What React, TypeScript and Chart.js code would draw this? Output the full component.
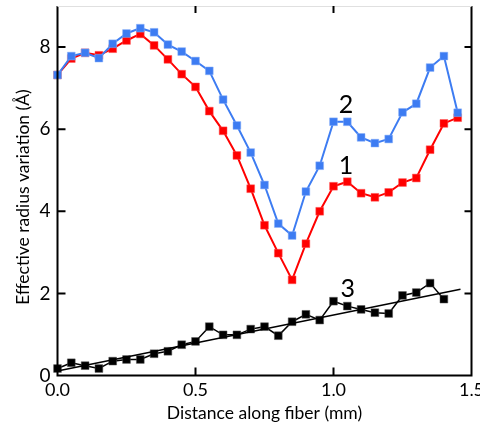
import React, { useEffect, useRef } from "react";
import { Chart, registerables } from "chart.js";

Chart.register(...registerables);

const distances = [0, 0.05, 0.1, 0.15, 0.2, 0.25, 0.3, 0.35, 0.4, 0.45, 0.5, 0.55, 0.6, 0.65, 0.7, 0.75, 0.8, 0.85, 0.9, 0.95, 1.0, 1.05, 1.1, 1.15, 1.2, 1.25, 1.3, 1.35, 1.4, 1.45];
const series1 = [7.32, 7.72, 7.86, 7.8, 7.96, 8.16, 8.32, 8.04, 7.7, 7.34, 7.03, 6.44, 5.96, 5.36, 4.55, 3.66, 2.98, 2.33, 3.21, 4.0, 4.61, 4.72, 4.44, 4.34, 4.46, 4.7, 4.81, 5.5, 6.14, 6.28];
const series2 = [7.32, 7.78, 7.86, 7.73, 8.08, 8.33, 8.46, 8.36, 8.06, 7.89, 7.66, 7.42, 6.72, 6.09, 5.43, 4.64, 3.7, 3.41, 4.48, 5.11, 6.18, 6.18, 5.8, 5.66, 5.76, 6.41, 6.62, 7.5, 7.78, 6.4];
const series3 = [0.17, 0.31, 0.24, 0.17, 0.35, 0.39, 0.39, 0.53, 0.59, 0.75, 0.83, 1.19, 0.99, 0.99, 1.13, 1.19, 0.97, 1.31, 1.49, 1.35, 1.81, 1.69, 1.61, 1.53, 1.51, 1.95, 2.02, 2.25, 1.86];
const fitX = [0, 1.46];
const fitY = [0.11, 2.1];
const xTicks = [0, 0.5, 1.0, 1.5];
const xTickLabels = ["0.0", "0.5", "1.0", "1.5"];
const yTicks = [0, 2, 4, 6, 8];
const yTickLabels = ["0", "2", "4", "6", "8"];
const seriesLabels = ["1", "2", "3"];
const labelPos = [
  { x: 1.045, y: 5.11 },
  { x: 1.045, y: 6.6 },
  { x: 1.052, y: 2.12 },
];

const FONT = "Lato, 'Open Sans', sans-serif";

const toXY = (xs: number[], ys: number[]) => ys.map((y, i) => ({ x: xs[i], y }));

const framePlugin = {
  id: "frame",
  afterDraw(chart: any) {
    const { ctx, chartArea: a, scales } = chart;
    const xs = scales.x;
    const ys = scales.y;
    ctx.save();
    ctx.strokeStyle = "#000";
    ctx.lineWidth = 2;
    ctx.beginPath();
    ctx.moveTo(a.left, a.top);
    ctx.lineTo(a.left, a.bottom);
    ctx.lineTo(a.right, a.bottom);
    ctx.lineTo(a.right, a.top);
    ctx.stroke();
    ctx.strokeStyle = "#e0e0e0";
    ctx.lineWidth = 1;
    ctx.beginPath();
    ctx.moveTo(a.left, a.top + 0.5);
    ctx.lineTo(a.right, a.top + 0.5);
    ctx.stroke();
    ctx.strokeStyle = "#000";
    ctx.lineWidth = 2;
    ctx.beginPath();
    yTicks.forEach((v) => {
      const py = ys.getPixelForValue(v);
      if (v === 0) return;
      ctx.moveTo(a.left, py);
      ctx.lineTo(a.left + 8, py);
      ctx.moveTo(a.right, py);
      ctx.lineTo(a.right - 7, py);
    });
    xTicks.forEach((v) => {
      const px = xs.getPixelForValue(v);
      if (v === 0 || v === 1.5) return;
      ctx.moveTo(px, a.bottom);
      ctx.lineTo(px, a.bottom - 8);
      ctx.moveTo(px, a.top);
      ctx.lineTo(px, a.top + 7);
    });
    ctx.stroke();
    ctx.fillStyle = "#000";
    ctx.font = `19px ${FONT}`;
    ctx.textAlign = "right";
    ctx.textBaseline = "middle";
    yTicks.forEach((v, i) => {
      ctx.fillText(yTickLabels[i], a.left - 7, ys.getPixelForValue(v));
    });
    ctx.textAlign = "center";
    ctx.textBaseline = "top";
    ctx.font = `18px ${FONT}`;
    xTicks.forEach((v, i) => {
      ctx.fillText(xTickLabels[i], xs.getPixelForValue(v), a.bottom + 6);
    });
    ctx.font = `17.5px ${FONT}`;
    ctx.textBaseline = "middle";
    ctx.fillText("Distance along fiber (mm)", (a.left + a.right) / 2, 413);
    ctx.save();
    ctx.translate(23, 197);
    ctx.rotate(-Math.PI / 2);
    ctx.fillText("Effective radius variation (Å)", 0, 0);
    ctx.restore();
    ctx.font = `25px ${FONT}`;
    seriesLabels.forEach((t, i) => {
      ctx.fillText(t, xs.getPixelForValue(labelPos[i].x), ys.getPixelForValue(labelPos[i].y));
    });
    ctx.restore();
  },
};

export default function App() {
  const ref = useRef<HTMLCanvasElement>(null);
  useEffect(() => {
    if (!ref.current) return;
    const chart = new Chart(ref.current, {
      type: "line",
      data: {
        datasets: [
          {
            label: "fit",
            data: toXY(fitX, fitY),
            borderColor: "#000",
            borderWidth: 1.5,
            pointRadius: 0,
            clip: false,
          },
          {
            label: "3",
            data: toXY(distances, series3),
            borderColor: "#000",
            backgroundColor: "#000",
            borderWidth: 1.5,
            pointStyle: "rect",
            pointRadius: 5.5,
            pointBorderWidth: 0.5,
            pointBorderColor: "#555",
            clip: false,
          },
          {
            label: "2",
            data: toXY(distances, series2),
            borderColor: "#3d7cf2",
            backgroundColor: "#3d7cf2",
            borderWidth: 2,
            pointStyle: "rect",
            pointRadius: 5.5,
            pointBorderWidth: 0.5,
            pointBorderColor: "#8ab0f8",
            clip: false,
          },
          {
            label: "1",
            data: toXY(distances, series1),
            borderColor: "#ff0000",
            backgroundColor: "#ff0000",
            borderWidth: 2,
            pointStyle: "rect",
            pointRadius: 5.5,
            pointBorderWidth: 0.5,
            pointBorderColor: "#ff5050",
            clip: false,
          },
        ],
      },
      options: {
        responsive: false,
        animation: false,
        layout: { padding: { left: 57.5, right: 8.5, top: 0, bottom: 55.5 } },
        plugins: { legend: { display: false }, tooltip: { enabled: false } },
        scales: {
          x: { type: "linear", min: 0, max: 1.5, display: false },
          y: { type: "linear", min: 0, max: 9, display: false },
        },
      },
      plugins: [framePlugin],
    });
    return () => chart.destroy();
  }, []);
  return (
    <div style={{ position: "absolute", left: 0, top: 0, width: 480, height: 431, background: "#fff" }}>
      <canvas ref={ref} width={480} height={431} />
    </div>
  );
}
